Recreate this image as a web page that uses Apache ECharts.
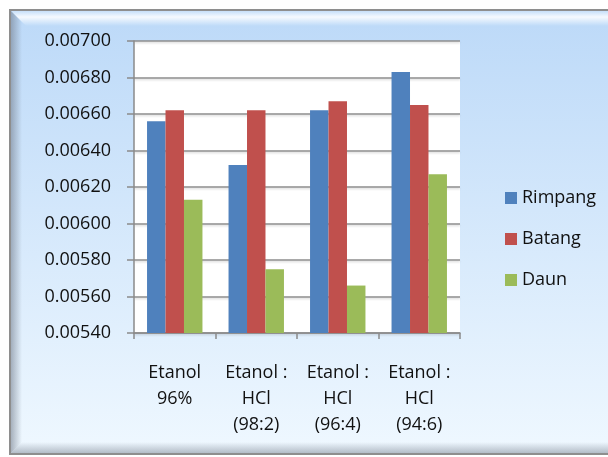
<!DOCTYPE html>
<html>
<head>
<meta charset="utf-8">
<script src="https://cdn.jsdelivr.net/npm/echarts@6/dist/echarts.min.js"></script>
<style>
html, body { margin: 0; padding: 0; background: #fff; }
#chart { width: 608px; height: 457px; }
</style>
</head>
<body>
<div id="chart"></div>
<script>
// data
const categories = ['Etanol\n96%', 'Etanol :\nHCl\n(98:2)', 'Etanol :\nHCl\n(96:4)', 'Etanol :\nHCl\n(94:6)'];
const rimpang = [0.00656, 0.00632, 0.00662, 0.00683];
const batang = [0.00662, 0.00662, 0.00667, 0.00665];
const daun = [0.00613, 0.00575, 0.00566, 0.00627];

const font = 'Open Sans';
const bar = (name, data, color) => ({
    name: name,
    type: 'bar',
    data: data,
    barGap: 0,
    barCategoryGap: '32%',
    itemStyle: { color: color },
    animation: false
});

const chart = echarts.init(document.getElementById('chart'), null, { renderer: 'canvas' });

chart.setOption({
    animation: false,
    graphic: [
        {
            type: 'rect', z: -10, silent: true,
            shape: { x: 10, y: 10, width: 606, height: 444 },
            style: {
                fill: new echarts.graphic.LinearGradient(0, 0, 0, 1, [
                    { offset: 0, color: '#bcd9f8' },
                    { offset: 1, color: '#eff8ff' }
                ]),
                stroke: '#8e8e8e', lineWidth: 2
            }
        },
        {
            type: 'polygon', z: -9, silent: true,
            shape: { points: [[11, 11], [616, 11], [616, 26], [26, 26]] },
            style: {
                fill: new echarts.graphic.LinearGradient(0, 0, 0, 1, [
                    { offset: 0, color: 'rgba(255,255,255,0.15)' },
                    { offset: 0.4, color: 'rgba(255,255,255,0.85)' },
                    { offset: 1, color: 'rgba(255,255,255,0)' }
                ])
            }
        },
        {
            type: 'polygon', z: -9, silent: true,
            shape: { points: [[11, 11], [22, 22], [22, 442], [11, 453]] },
            style: {
                fill: new echarts.graphic.LinearGradient(0, 0, 1, 0, [
                    { offset: 0, color: 'rgba(110,120,135,0.55)' },
                    { offset: 1, color: 'rgba(110,120,135,0)' }
                ])
            }
        },
        {
            type: 'polygon', z: -9, silent: true,
            shape: { points: [[11, 453], [22, 442], [616, 442], [616, 453]] },
            style: {
                fill: new echarts.graphic.LinearGradient(0, 0, 0, 1, [
                    { offset: 0, color: 'rgba(120,130,145,0)' },
                    { offset: 1, color: 'rgba(120,130,145,0.5)' }
                ])
            }
        }
    ],
    grid: {
        left: 134, right: 148, top: 41, bottom: 124,
        show: true, backgroundColor: '#ffffff', borderWidth: 0
    },
    legend: {
        orient: 'vertical',
        left: 500, top: 184,
        itemWidth: 12, itemHeight: 12,
        itemGap: 23,
        icon: 'rect',
        textStyle: { fontFamily: font, fontSize: 18, color: '#111' },
        data: ['Rimpang', 'Batang', 'Daun']
    },
    xAxis: {
        type: 'category',
        data: categories,
        axisLine: { lineStyle: { color: '#8a8a8a', width: 1.5 } },
        axisTick: { show: true, length: 6, lineStyle: { color: '#8a8a8a', width: 1.5 } },
        axisLabel: {
            interval: 0, margin: 27,
            fontFamily: font, fontSize: 18, lineHeight: 26, color: '#111'
        }
    },
    yAxis: {
        type: 'value',
        min: 0.0054, max: 0.007, interval: 0.0002,
        axisLine: { show: true, lineStyle: { color: '#8a8a8a', width: 1.5 } },
        axisTick: { show: true, length: 7, lineStyle: { color: '#8a8a8a', width: 1.5 } },
        splitLine: {
            lineStyle: {
                color: '#8e8e8e', width: 1.5,
                shadowColor: 'rgba(0,0,0,0.15)', shadowBlur: 2, shadowOffsetY: 1.5
            }
        },
        axisLabel: {
            margin: 23,
            fontFamily: font, fontSize: 18, color: '#111',
            formatter: v => v.toFixed(5)
        }
    },
    series: [
        bar('Rimpang', rimpang, '#4f81bd'),
        bar('Batang', batang, '#c0504d'),
        bar('Daun', daun, '#9bbb59')
    ]
});
</script>
</body>
</html>
